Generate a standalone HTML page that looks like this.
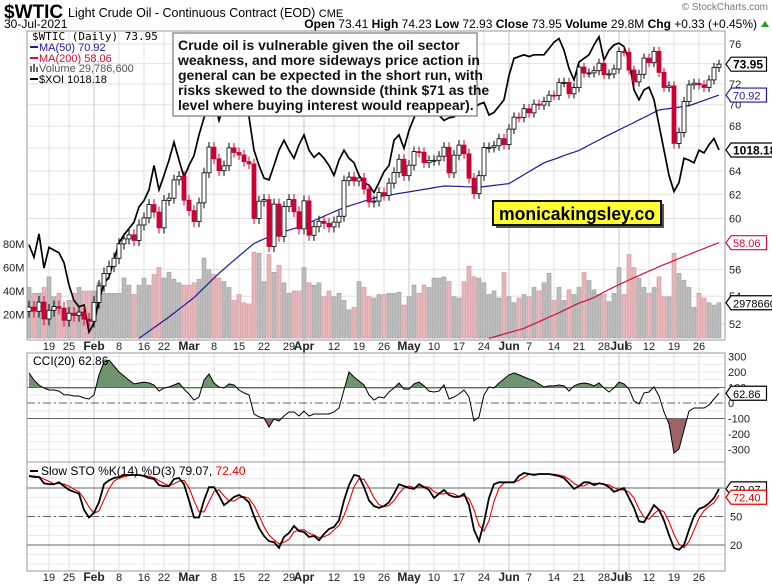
<!DOCTYPE html>
<html><head><meta charset="utf-8"><style>
html,body{margin:0;padding:0;background:#fff;}
svg{display:block;font-family:"Liberation Sans",Arial,sans-serif;}
</style></head><body>
<svg id="chart" width="772" height="587" viewBox="0 0 772 587" xmlns="http://www.w3.org/2000/svg">
<defs>
<clipPath id="cMain"><rect x="27" y="31" width="698" height="309"/></clipPath>
<clipPath id="cCci"><rect x="27" y="353" width="698" height="109"/></clipPath>
<clipPath id="cSto"><rect x="27" y="462" width="698" height="109"/></clipPath>
<clipPath id="cAbove"><rect x="27" y="353" width="698" height="35.5"/></clipPath>
<clipPath id="cBelow"><rect x="27" y="418.5" width="698" height="44"/></clipPath>
</defs>
<rect width="772" height="587" fill="#fff"/>
<g>
<text x="4" y="18" font-size="19" font-weight="bold">$WTIC</text>
<text x="68" y="17" font-size="12.5">Light Crude Oil - Continuous Contract (EOD) <tspan font-size="11">CME</tspan></text>
<text x="4" y="28" font-size="12">30-Jul-2021</text>
<text x="757" y="28" font-size="12" text-anchor="end"><tspan font-weight="bold">Open</tspan> 73.41 <tspan font-weight="bold">High</tspan> 74.23 <tspan font-weight="bold">Low</tspan> 72.93 <tspan font-weight="bold">Close</tspan> 73.95 <tspan font-weight="bold">Volume</tspan> 29.8M <tspan font-weight="bold">Chg</tspan> +0.33 (+0.45%)</text>
<polygon points="761,27 769,27 765,21" fill="#2a9a2a"/>
<text x="768" y="10" font-size="10" fill="#777" text-anchor="end">© StockCharts.com</text>
</g>
<g id="grid"></g>
<g id="mainMarks" clip-path="url(#cMain)"></g>
<g id="cciMarks"></g>
<g id="stoMarks" clip-path="url(#cSto)"></g>
<g id="axes"></g>
<g>
<rect x="173" y="33" width="304" height="83" fill="#fff" stroke="#777" stroke-width="1.2"/>
<text font-size="14" font-weight="bold" fill="#111">
<tspan x="178" y="50">Crude oil is vulnerable given the oil sector</tspan>
<tspan x="178" y="65">weakness, and more sideways price action in</tspan>
<tspan x="178" y="80">general can be expected in the short run, with</tspan>
<tspan x="178" y="95">risks skewed to the downside (think $71 as the</tspan>
<tspan x="178" y="110">level where buying interest would reappear).</tspan>
</text>
</g>
<g>
<rect x="496" y="204" width="168" height="24" fill="#555"/>
<rect x="493" y="201" width="168" height="24" fill="#ffff33" stroke="#111" stroke-width="2"/>
<text x="499" y="220" font-size="18" font-weight="bold" textLength="156" lengthAdjust="spacingAndGlyphs">monicakingsley.co</text>
</g>
<g id="legend" font-size="11">
<text x="32" y="40" font-family="'DejaVu Sans Mono','Liberation Mono',monospace" font-size="11">$WTIC (Daily) 73.95</text>
<line x1="30" y1="47" x2="38" y2="47" stroke="#1a1a9a" stroke-width="2"/>
<text x="39" y="51" fill="#1a1a9a">MA(50) 70.92</text>
<line x1="30" y1="58" x2="38" y2="58" stroke="#d0103a" stroke-width="2"/>
<text x="39" y="62" fill="#d0103a">MA(200) 58.06</text>
<text x="39" y="72" fill="#555">Volume 29,786,600</text>
<rect x="30" y="66" width="2" height="6" fill="#666"/><rect x="33" y="64" width="2" height="8" fill="#666"/><rect x="36" y="67" width="2" height="5" fill="#666"/>
<line x1="30" y1="79" x2="38" y2="79" stroke="#000" stroke-width="2"/>
<text x="39" y="83">$XOI 1018.18</text>
<text x="33" y="365" font-size="12">CCI(20) 62.86</text>
<line x1="30" y1="471" x2="38" y2="471" stroke="#000" stroke-width="2"/>
<text x="41" y="475" font-size="12">Slow STO %K(14) %D(3) 79.07, <tspan fill="#e00">72.40</tspan></text>
</g>
<g id="tags"></g>
</svg>
<script>
const days=[12,13,14,15,19,20,21,22,25,26,27,28,29,1,2,3,4,5,8,9,10,11,12,16,17,18,19,22,23,24,25,26,1,2,3,4,5,8,9,10,11,12,15,16,17,18,19,22,23,24,25,26,29,30,31,1,5,6,7,8,9,12,13,14,15,16,19,20,21,22,23,26,27,28,29,30,3,4,5,6,7,10,11,12,13,14,17,18,19,20,21,24,25,26,27,28,1,2,3,4,7,8,9,10,11,14,15,16,17,18,21,22,23,24,25,28,29,30,1,2,6,7,8,9,12,13,14,15,16,19,20,21,22,23,26,27,28,29,30];
const monthNames=["Jan","Feb","Mar","Apr","May","Jun","Jul"];
const closes=[53.21,52.91,53.57,52.36,52.98,53.24,53.13,52.27,52.77,52.61,52.85,52.34,52.20,53.55,54.76,55.69,56.23,56.85,57.97,58.36,58.68,58.24,59.47,60.05,61.14,60.52,59.24,61.49,61.67,63.22,63.53,61.50,60.64,59.75,61.28,63.83,66.09,65.05,64.01,64.44,66.02,65.61,65.39,64.80,64.60,60.00,61.42,61.55,57.76,61.18,58.56,60.97,61.56,60.55,59.16,61.45,58.65,59.33,59.77,59.60,59.32,59.70,60.18,63.15,63.46,63.13,63.38,62.44,61.35,61.43,62.14,61.91,62.94,63.86,65.01,63.58,64.49,65.69,65.63,64.71,64.90,64.92,65.28,66.08,63.82,65.37,66.27,65.49,63.36,62.05,63.58,66.05,66.07,66.21,66.85,66.32,67.72,68.83,68.81,69.62,69.23,70.05,69.96,70.29,70.91,70.88,72.12,72.15,71.04,71.64,73.66,73.06,73.08,73.30,74.05,72.91,72.98,73.47,75.23,75.16,73.37,72.20,72.94,74.56,74.10,75.25,73.13,71.65,71.81,66.42,67.42,70.30,71.91,72.07,71.91,71.65,72.39,73.62,73.95];
const firstOpen=52.9;
const volumes=[43,38,38,43,52,35,38,24,32,38,43,40,40,40,47,38,38,38,38,51,45,37,45,51,45,54,60,51,56,50,47,45,45,47,50,68,58,54,51,48,43,32,37,30,29,73,72,48,71,56,62,47,38,40,40,60,47,45,47,35,40,35,38,32,24,26,48,43,35,34,37,37,38,38,39,28,35,45,38,45,43,51,51,52,48,35,34,48,61,52,51,47,37,40,34,56,35,30,34,37,35,43,40,47,55,32,43,32,41,37,43,56,49,41,37,37,31,38,60,37,71,60,51,43,38,43,52,35,35,72,55,49,43,26,38,34,30,28,30];
const xoi=[913,899,925,887,910,907,904,893,868,851,844,846,816,826,851,870,877,896,915,924,931,938,955,962,974,1001,974,990,1007,1027,1007,988,1001,1012,1035,1054,1068,1074,1051,1068,1079,1085,1074,1062,1055,1018,1001,987,985,1001,1018,1029,1018,1009,1024,1035,1018,1010,1015,1009,1001,990,1007,1018,1009,1004,990,982,979,971,982,994,1001,1029,1035,1020,1040,1054,1065,1074,1079,1068,1057,1051,1054,1055,1060,1065,1068,1065,1069,1071,1057,1060,1067,1074,1101,1120,1122,1124,1122,1124,1124,1124,1131,1138,1142,1129,1109,1096,1116,1120,1124,1135,1144,1118,1129,1135,1137,1133,1118,1085,1074,1085,1088,1074,1046,1018,990,972,982,1009,1007,1004,1018,1015,1024,1031,1018.18];
const ma50Start=22;
const ma50=[51.0,51.25,51.5,51.75,52.0,52.25,52.5,52.78,53.06,53.34,53.62,53.9,54.26,54.62,54.98,55.34,55.7,56.03,56.36,56.69,57.02,57.35,57.68,58.0,58.18,58.35,58.53,58.7,58.82,58.94,59.06,59.18,59.3,59.48,59.65,59.83,60.0,60.18,60.36,60.54,60.72,60.9,61.03,61.16,61.29,61.42,61.55,61.68,61.8,61.87,61.93,62.0,62.07,62.13,62.2,62.27,62.34,62.41,62.48,62.56,62.63,62.7,62.69,62.67,62.66,62.64,62.63,62.61,62.6,62.65,62.7,62.75,62.8,62.85,62.9,63.16,63.41,63.67,63.93,64.19,64.44,64.7,64.86,65.01,65.17,65.33,65.49,65.64,65.8,66.03,66.27,66.5,66.73,66.97,67.2,67.43,67.65,67.88,68.1,68.33,68.57,68.8,69.03,69.27,69.5,69.57,69.63,69.7,69.77,69.83,69.9,70.07,70.24,70.41,70.58,70.75,70.92];
const ma200Start=92;
const ma200=[51.0,51.1,51.2,51.3,51.4,51.5,51.6,51.7,51.86,52.01,52.17,52.33,52.49,52.64,52.8,52.98,53.15,53.33,53.5,53.63,53.77,53.9,54.1,54.3,54.5,54.68,54.85,55.03,55.2,55.37,55.53,55.7,55.87,56.03,56.2,56.36,56.51,56.67,56.83,56.99,57.14,57.3,57.45,57.6,57.76,57.91,58.06];
const cci=[194,148,116,97,84,84,77,52,52,45,45,32,26,52,181,264,277,239,200,174,148,123,129,135,129,116,77,97,103,116,129,90,58,19,39,148,187,129,103,97,123,116,84,65,52,-71,-90,-97,-155,-103,-116,-84,-58,-58,-84,-52,-84,-71,-71,-71,-71,-58,-32,84,200,168,142,116,52,19,39,32,71,97,129,90,90,123,135,110,77,71,77,116,26,39,58,84,39,-116,-90,52,103,97,129,155,181,194,181,168,155,142,123,103,110,110,116,110,77,110,123,129,123,110,129,97,71,97,135,123,90,13,-6,65,71,103,45,-58,-135,-323,-297,-174,-52,-32,-32,-32,-13,26,62.86];
const stoK=[92.6,91.6,91.6,85,84,84,86,82,78,76,74,57,49,54,65,84,88,90.5,91.6,93.7,93.7,93.7,93.7,92.6,90.5,89.5,83,82,82,89.5,90.5,84,67,49,49,67,81,81,72,62,66,70.5,72.6,69.5,65,50.5,38,29.5,24,23,17,28.5,32.6,40,34.7,33.7,28.5,29.5,25,31.6,36.8,39,46,67,83,93.7,92.6,81,67,61,59,61,65,74,84,82,80,79,84,81,78,69.5,74,78,72.6,70.5,70.5,74,62,36,24,44,69.5,84,86,86,86,86,92.6,95.8,94.7,93.7,94.7,94.7,94.7,93.7,92.6,90.5,85,79,82,86,86,83,85,84,81,76,78,80,69.5,59,45,44,52.6,62,57,46,30.5,17,15,20,36,50.5,58,60,64,69.5,79.07];
const stoD=[93,92.5,92,89.4,86.9,84.3,84.7,84,82,78.7,76,69,60,53.3,56,67.7,79,87.5,90,92,93,93.7,93.7,93.3,92.3,90.9,87.7,84.8,82.3,84.5,87.3,88,80.5,66.7,55,55,65.7,76.3,78,71.7,66.7,66.2,69.7,70.9,69,61.7,51.2,39.3,30.5,25.5,21.3,22.8,26,33.7,35.8,36.1,32.3,30.6,27.7,28.7,31.1,35.8,40.6,50.7,65.3,81.2,89.8,89.1,80.2,69.7,62.3,60.3,61.7,66.7,74.3,80,82,80.3,81,81.3,81,76.2,73.8,73.8,74.9,73.7,71.2,71.7,68.8,57.3,40.7,34.7,45.8,65.8,79.8,85.3,86,86,88.2,91.5,94.4,94.7,94.4,94.4,94.7,94.4,93.7,92.3,89.4,84.8,82,82.3,84.7,85,84.7,84,83.3,80.3,78.3,78,75.8,69.5,57.8,49.3,47.2,52.9,57.2,55,44.5,31.2,20.8,17.3,23.7,35.5,48.2,56.2,60.7,64.5,72.40];
const priceTicks=[52,54,56,58,60,62,64,66,68,70,72,74,76];
const volTicks=[20,40,60,80];
const cciTicks=[300,200,100,0,-100,-200,-300];
const stoTicks=[50,20];

const NS="http://www.w3.org/2000/svg";
function mk(tag,attrs,parent){const e=document.createElementNS(NS,tag);for(const k in attrs)e.setAttribute(k,attrs[k]);parent.appendChild(e);return e;}
const xAt=i=>29+5*i;
const yP=p=>44+(Math.log(76)-Math.log(p))*738;
const yV=v=>338-v*1.175;
const yX=v=>150-(v-1018.18)*0.9;
const yC=v=>403-v*0.155;
const yS=v=>488+(80-v)*0.95;
const L=27,R=725;
const grid=document.getElementById('grid'),main=document.getElementById('mainMarks'),cciG=document.getElementById('cciMarks'),stoG=document.getElementById('stoMarks'),axes=document.getElementById('axes'),tags=document.getElementById('tags');

[[31,340],[353,462],[462,571]].forEach(([t,b])=>{
  const r=mk('rect',{x:L,y:t,width:R-L,height:b-t,fill:'none',stroke:'#999','stroke-width':1},axes);
  
  
});
priceTicks.forEach(p=>{
  mk('line',{x1:L,x2:R,y1:yP(p),y2:yP(p),stroke:'#e2e2e2'},grid);
  const t=mk('text',{x:729,y:yP(p)+4,'font-size':11,fill:'#222'},axes);t.textContent=p;
  
  
});
volTicks.forEach(v=>{
  const t=mk('text',{x:3,y:yV(v)+4,'font-size':11,fill:'#222'},axes);t.textContent=v+'M';
  
  
});
for(let v=-300;v<=300;v+=50){mk('line',{x1:L,x2:R,y1:yC(v),y2:yC(v),stroke:'#ececec'},grid);}
for(let v=0;v<=100;v+=10){mk('line',{x1:L,x2:R,y1:yS(v),y2:yS(v),stroke:'#ececec'},grid);}
cciTicks.forEach(v=>{
  const t=mk('text',{x:728,y:yC(v)+4,'font-size':11,fill:'#222'},axes);t.textContent=v;
  
  
});
stoTicks.forEach(v=>{
  const t=mk('text',{x:730,y:yS(v)+4,'font-size':11,fill:'#222'},axes);t.textContent=v;
  
  
});
let m=0;let lastMonthIdx=-10;
for(let i=0;i<days.length;i++){
  let lab=null,bold=false;
  if(i>0&&days[i]<days[i-1]){m++;lab=monthNames[m];bold=true;lastMonthIdx=i;}
  else if(i>0&&days[i]-days[i-1]>1&&i-lastMonthIdx>=2){lab=String(days[i]);}
  if(!lab)continue;
  const x=xAt(i);
  [[31,340],[353,571]].forEach(([a,b])=>mk('line',{x1:x,x2:x,y1:a,y2:b,stroke:bold?'#c8c8c8':'#e2e2e2'},grid));
  [350,581].forEach(y=>{
    const t=mk('text',{x:x,y:y,'font-size':bold?12:11,'font-weight':bold?'bold':'normal','text-anchor':'middle',fill:'#222'},axes);
    t.textContent=lab;
    
    
  });
}
for(let i=0;i<volumes.length;i++){
  const down=i>0&&closes[i]<closes[i-1];
  const r=mk('rect',{x:xAt(i)-2,y:yV(volumes[i]),width:4,height:yV(0)-yV(volumes[i]),fill:down?'#e6b8bc':'#bcbcbc',stroke:down?'#d38a93':'#9a9a9a','stroke-width':0.6},main);
  
  
}
function linePath(arr,start,fy){return arr.map((v,k)=>(k?'L':'M')+xAt(start+k).toFixed(1)+','+fy(v).toFixed(1)).join('');}
const pm200=mk('path',{d:linePath(ma200,ma200Start,yP),fill:'none',stroke:'#d0103a','stroke-width':1.2},main);


const pm50=mk('path',{d:linePath(ma50,ma50Start,yP),fill:'none',stroke:'#1a1a9a','stroke-width':1.2},main);


const px=mk('path',{d:linePath(xoi,0,yX),fill:'none',stroke:'#000','stroke-width':1.7},main);


for(let i=0;i<closes.length;i++){
  const o=i?closes[i-1]:firstOpen,c=closes[i];
  const up=c>=o;
  const hi=Math.max(o,c)+0.45,lo=Math.min(o,c)-0.45;
  const col=up?'#000':'#cc0033';
  const x=xAt(i);
  const w=mk('line',{x1:x,x2:x,y1:yP(hi),y2:yP(lo),stroke:col,'stroke-width':1},main);
  
  
  const yt=yP(Math.max(o,c)),yb=yP(Math.min(o,c));
  const b=mk('rect',{x:x-2,y:yt,width:4,height:Math.max(1,yb-yt),fill:up?'#fff':'#cc0033',stroke:col,'stroke-width':0.8},main);
  
  
}
const cciLine=linePath(cci,0,yC);
const areaUp=cciLine+'L'+xAt(cci.length-1)+','+yC(100)+'L'+xAt(0)+','+yC(100)+'Z';
const areaDn=cciLine+'L'+xAt(cci.length-1)+','+yC(-100)+'L'+xAt(0)+','+yC(-100)+'Z';
const fa=mk('path',{d:areaUp,fill:'#6f926f',stroke:'none','clip-path':'url(#cAbove)'},cciG);


const fb=mk('path',{d:areaDn,fill:'#9c6464',stroke:'none','clip-path':'url(#cBelow)'},cciG);


mk('line',{x1:L,x2:R,y1:yC(100),y2:yC(100),stroke:'#666'},cciG);
mk('line',{x1:L,x2:R,y1:yC(-100),y2:yC(-100),stroke:'#666'},cciG);
mk('line',{x1:L,x2:R,y1:yC(0),y2:yC(0),stroke:'#666','stroke-dasharray':'8,3,2,3'},cciG);
const cl=mk('path',{d:cciLine,fill:'none',stroke:'#000','stroke-width':1,'clip-path':'url(#cCci)'},cciG);


mk('line',{x1:L,x2:R,y1:yS(80),y2:yS(80),stroke:'#666'},stoG);
mk('line',{x1:L,x2:R,y1:yS(20),y2:yS(20),stroke:'#666'},stoG);
mk('line',{x1:L,x2:R,y1:yS(50),y2:yS(50),stroke:'#666','stroke-dasharray':'8,3,2,3'},stoG);
const sd=mk('path',{d:linePath(stoD,0,yS),fill:'none',stroke:'#e00','stroke-width':1.1},stoG);


const sk=mk('path',{d:linePath(stoK,0,yS),fill:'none',stroke:'#000','stroke-width':1.8},stoG);


function tag(y,txt,col,bold,name){
  const w=txt.length*6.3+4;
  const p=mk('polygon',{points:`${R+1},${y} ${R+6},${y-7} ${R+6+w},${y-7} ${R+6+w},${y+7} ${R+6},${y+7}`,fill:'#fff',stroke:col,'stroke-width':1.2},tags);
  
  
  const t=mk('text',{x:R+8,y:y+4.5,'font-size':bold?12:11,'font-weight':bold?'bold':'normal',fill:col},tags);
  t.textContent=txt;
  
  
}
tag(yP(closes[closes.length-1]),'73.95','#000',true,'last-price');
tag(yP(ma50[ma50.length-1]),'70.92','#1a1a9a',false,'ma50');
tag(yX(xoi[xoi.length-1]),'1018.18','#000',true,'xoi');
tag(yP(ma200[ma200.length-1]),'58.06','#d0103a',false,'ma200');
tag(yV(volumes[volumes.length-1]),'29786600','#000',false,'volume');
tag(yC(cci[cci.length-1]),'62.86','#000',false,'cci');
tag(yS(stoK[stoK.length-1]),'79.07','#000',false,'sto-k');
tag(yS(stoD[stoD.length-1])+2,'72.40','#e00',false,'sto-d');
</script>
</body></html>
